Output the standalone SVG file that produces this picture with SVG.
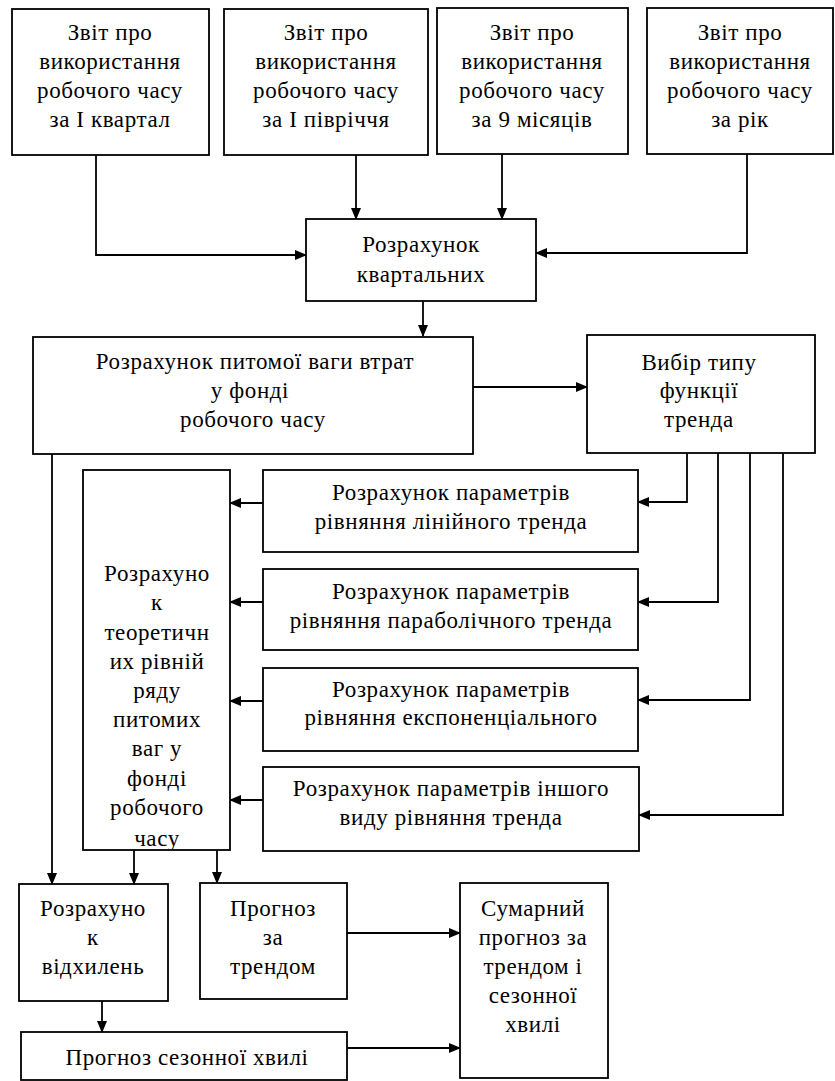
<svg xmlns="http://www.w3.org/2000/svg" width="835" height="1081" viewBox="0 0 835 1081">
<style>
  .box { fill: #ffffff; stroke: #000000; stroke-width: 1.8; }
  .t { font-family: "Liberation Serif", "Times New Roman", serif; font-size: 23px; fill: #000000; text-anchor: middle; letter-spacing: 0.6px; }
  .c { fill: none; stroke: #000000; stroke-width: 1.8; }
</style>
<defs>
  <marker id="ah" markerUnits="userSpaceOnUse" markerWidth="12" markerHeight="10" refX="11" refY="5" orient="auto">
    <path d="M0,0 L12,5 L0,10 Z" fill="#000000"/>
  </marker>
  <clipPath id="clipTall"><rect x="83" y="470" width="147" height="379"/></clipPath>
</defs>
<rect width="835" height="1081" fill="#ffffff"/>

<g id="connectors">
  <path class="c" d="M96,155 V255 H306" marker-end="url(#ah)"/>
  <path class="c" d="M356,155 V219" marker-end="url(#ah)"/>
  <path class="c" d="M502,154 V219" marker-end="url(#ah)"/>
  <path class="c" d="M747,154 V253 H536" marker-end="url(#ah)"/>
  <path class="c" d="M423,301 V336" marker-end="url(#ah)"/>
  <path class="c" d="M473,387 H587" marker-end="url(#ah)"/>
  <path class="c" d="M687,453 V502 H638" marker-end="url(#ah)"/>
  <path class="c" d="M718,453 V602 H638" marker-end="url(#ah)"/>
  <path class="c" d="M750,453 V700 H638" marker-end="url(#ah)"/>
  <path class="c" d="M783,453 V815 H639" marker-end="url(#ah)"/>
  <path class="c" d="M263,503 H230" marker-end="url(#ah)"/>
  <path class="c" d="M263,602 H230" marker-end="url(#ah)"/>
  <path class="c" d="M263,701 H230" marker-end="url(#ah)"/>
  <path class="c" d="M263,800 H230" marker-end="url(#ah)"/>
  <path class="c" d="M52,454 V884" marker-end="url(#ah)"/>
  <path class="c" d="M134,850 V884" marker-end="url(#ah)"/>
  <path class="c" d="M217,850 V883" marker-end="url(#ah)"/>
  <path class="c" d="M347,933 H460" marker-end="url(#ah)"/>
  <path class="c" d="M102,1001 V1032" marker-end="url(#ah)"/>
  <path class="c" d="M347,1048 H460" marker-end="url(#ah)"/>
</g>

<g id="report-q1">
  <rect class="box" x="12" y="9" width="197" height="146"/>
  <text class="t" x="110" y="40">Звіт про</text>
  <text class="t" x="110" y="69">використання</text>
  <text class="t" x="110" y="98">робочого часу</text>
  <text class="t" x="110" y="127">за І квартал</text>
</g>
<g id="report-h1">
  <rect class="box" x="224" y="9" width="204" height="146"/>
  <text class="t" x="326" y="40">Звіт про</text>
  <text class="t" x="326" y="69">використання</text>
  <text class="t" x="326" y="98">робочого часу</text>
  <text class="t" x="326" y="127">за І півріччя</text>
</g>
<g id="report-9m">
  <rect class="box" x="437" y="8" width="191" height="146"/>
  <text class="t" x="532" y="40">Звіт про</text>
  <text class="t" x="532" y="69">використання</text>
  <text class="t" x="532" y="98">робочого часу</text>
  <text class="t" x="532" y="127">за 9 місяців</text>
</g>
<g id="report-year">
  <rect class="box" x="647" y="8" width="186" height="146"/>
  <text class="t" x="740" y="40">Звіт про</text>
  <text class="t" x="740" y="69">використання</text>
  <text class="t" x="740" y="98">робочого часу</text>
  <text class="t" x="740" y="127">за рік</text>
</g>

<g id="quarterly">
  <rect class="box" x="306" y="219" width="230" height="82"/>
  <text class="t" x="421" y="252">Розрахунок</text>
  <text class="t" x="421" y="282">квартальних</text>
</g>

<g id="share-losses">
  <rect class="box" x="33" y="337" width="440" height="117"/>
  <text class="t" x="255" y="369">Розрахунок питомої ваги втрат</text>
  <text class="t" x="250" y="398">у фонді</text>
  <text class="t" x="253" y="427">робочого часу</text>
</g>

<g id="trend-choice">
  <rect class="box" x="587" y="335" width="228" height="118"/>
  <text class="t" x="699" y="370">Вибір типу</text>
  <text class="t" x="699" y="398">функції</text>
  <text class="t" x="699" y="427">тренда</text>
</g>

<g id="param-linear">
  <rect class="box" x="263" y="470" width="375" height="82"/>
  <text class="t" x="451" y="500">Розрахунок параметрів</text>
  <text class="t" x="451" y="529">рівняння лінійного тренда</text>
</g>
<g id="param-parabolic">
  <rect class="box" x="263" y="569" width="375" height="81"/>
  <text class="t" x="451" y="599">Розрахунок параметрів</text>
  <text class="t" x="451" y="628">рівняння параболічного тренда</text>
</g>
<g id="param-exp">
  <rect class="box" x="263" y="668" width="375" height="83"/>
  <text class="t" x="451" y="697">Розрахунок параметрів</text>
  <text class="t" x="451" y="725">рівняння експоненціального</text>
</g>
<g id="param-other">
  <rect class="box" x="263" y="767" width="376" height="84"/>
  <text class="t" x="451" y="796">Розрахунок параметрів іншого</text>
  <text class="t" x="451" y="825">виду рівняння тренда</text>
</g>

<g id="theoretical">
  <rect class="box" x="83" y="470" width="147" height="380"/>
  <g clip-path="url(#clipTall)">
    <text class="t" x="157" y="581">Розрахуно</text>
    <text class="t" x="157" y="610">к</text>
    <text class="t" x="157" y="640">теоретичн</text>
    <text class="t" x="157" y="669">их рівній</text>
    <text class="t" x="157" y="698">ряду</text>
    <text class="t" x="157" y="727">питомих</text>
    <text class="t" x="157" y="756">ваг у</text>
    <text class="t" x="157" y="786">фонді</text>
    <text class="t" x="157" y="815">робочого</text>
    <text class="t" x="157" y="846">часу</text>
  </g>
</g>

<g id="deviations">
  <rect class="box" x="19" y="884" width="149" height="117"/>
  <text class="t" x="93" y="916">Розрахуно</text>
  <text class="t" x="93" y="945">к</text>
  <text class="t" x="93" y="974">відхилень</text>
</g>

<g id="trend-forecast">
  <rect class="box" x="200" y="883" width="147" height="116"/>
  <text class="t" x="273" y="916">Прогноз</text>
  <text class="t" x="273" y="945">за</text>
  <text class="t" x="273" y="974">трендом</text>
</g>

<g id="total-forecast">
  <rect class="box" x="460" y="883" width="148" height="195"/>
  <text class="t" x="533" y="916">Сумарний</text>
  <text class="t" x="533" y="945">прогноз за</text>
  <text class="t" x="533" y="974">трендом і</text>
  <text class="t" x="533" y="1003">сезонної</text>
  <text class="t" x="533" y="1032">хвилі</text>
</g>

<g id="seasonal-forecast">
  <rect class="box" x="21" y="1032" width="326" height="48"/>
  <text class="t" x="187" y="1065">Прогноз сезонної хвилі</text>
</g>
</svg>
